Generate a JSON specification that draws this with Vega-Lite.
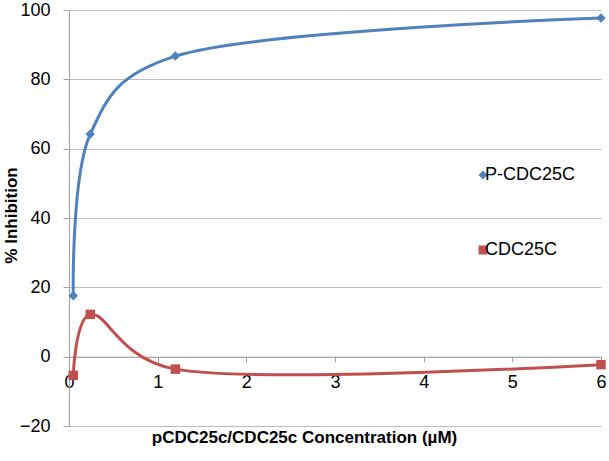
{
  "$schema": "https://vega.github.io/schema/vega-lite/v6.json",
  "width": 532,
  "height": 416,
  "autosize": {"type": "none"},
  "padding": {"left": 69, "top": 10, "right": 8, "bottom": 35},
  "background": "white",
  "config": {"view": {"stroke": null}, "font": "Liberation Sans"},
  "data": {
    "values": [
      {"conc": 0.048, "inhibition": 17.6, "series": "P-CDC25C"},
      {"conc": 0.24, "inhibition": 64.2, "series": "P-CDC25C"},
      {"conc": 1.2, "inhibition": 86.7, "series": "P-CDC25C"},
      {"conc": 6, "inhibition": 97.7, "series": "P-CDC25C"},
      {"conc": 0.048, "inhibition": -5.4, "series": "CDC25C"},
      {"conc": 0.24, "inhibition": 12.2, "series": "CDC25C"},
      {"conc": 1.2, "inhibition": -3.6, "series": "CDC25C"},
      {"conc": 6, "inhibition": -2.3, "series": "CDC25C"}
    ]
  },
  "encoding": {
    "x": {
      "field": "conc",
      "type": "quantitative",
      "scale": {"domain": [0, 6], "nice": false},
      "axis": {
        "values": [0, 1, 2, 3, 4, 5, 6],
        "grid": false,
        "offset": -69.3,
        "tickSize": 5,
        "tickColor": "#a0a0a0",
        "domainColor": "#a0a0a0",
        "labelFontSize": 18,
        "labelColor": "black",
        "labelPadding": 12,
        "labelFlush": false,
        "title": "pCDC25c/CDC25c Concentration (µM)",
        "titleFontSize": 17,
        "titleFontWeight": "bold",
        "titleColor": "black",
        "titleX": 235,
        "titleY": 86,
        "titleAlign": "center",
        "titleBaseline": "alphabetic"
      }
    },
    "y": {
      "field": "inhibition",
      "type": "quantitative",
      "scale": {"domain": [-20, 100], "nice": false, "zero": false},
      "axis": {
        "values": [-20, 0, 20, 40, 60, 80, 100],
        "grid": true,
        "gridColor": "#bdbdbd",
        "tickSize": 6,
        "tickColor": "#a0a0a0",
        "domainColor": "#a0a0a0",
        "labelFontSize": 18,
        "labelColor": "black",
        "labelPadding": 13,
        "title": "% Inhibition",
        "titleFontSize": 17,
        "titleFontWeight": "bold",
        "titleColor": "black",
        "titleX": -58,
        "titleY": 205,
        "titleAngle": -90,
        "titleAlign": "center",
        "titleBaseline": "middle"
      }
    },
    "color": {
      "field": "series",
      "type": "nominal",
      "scale": {"domain": ["P-CDC25C", "CDC25C"], "range": ["#4F81BD", "#C0504D"]},
      "legend": {
        "orient": "none",
        "legendX": 405,
        "legendY": 156,
        "padding": 0,
        "rowPadding": 57,
        "labelFontSize": 18,
        "labelColor": "black",
        "labelOffset": -7,
        "symbolSize": 80,
        "symbolStrokeWidth": 0,
        "title": null
      }
    }
  },
  "layer": [
    {
      "mark": {"type": "line", "interpolate": "catmull-rom", "tension": 0.25, "strokeWidth": 3}
    },
    {
      "mark": {"type": "point", "filled": true, "opacity": 1, "size": 90},
      "encoding": {
        "shape": {
          "field": "series",
          "type": "nominal",
          "scale": {"domain": ["P-CDC25C", "CDC25C"], "range": ["diamond", "square"]},
          "legend": {
            "orient": "none",
            "legendX": 405,
            "legendY": 156,
            "padding": 0,
            "rowPadding": 57,
            "labelFontSize": 18,
            "labelColor": "black",
            "labelOffset": -7,
            "symbolSize": 80,
            "symbolStrokeWidth": 0,
            "title": null
          }
        }
      }
    }
  ]
}
